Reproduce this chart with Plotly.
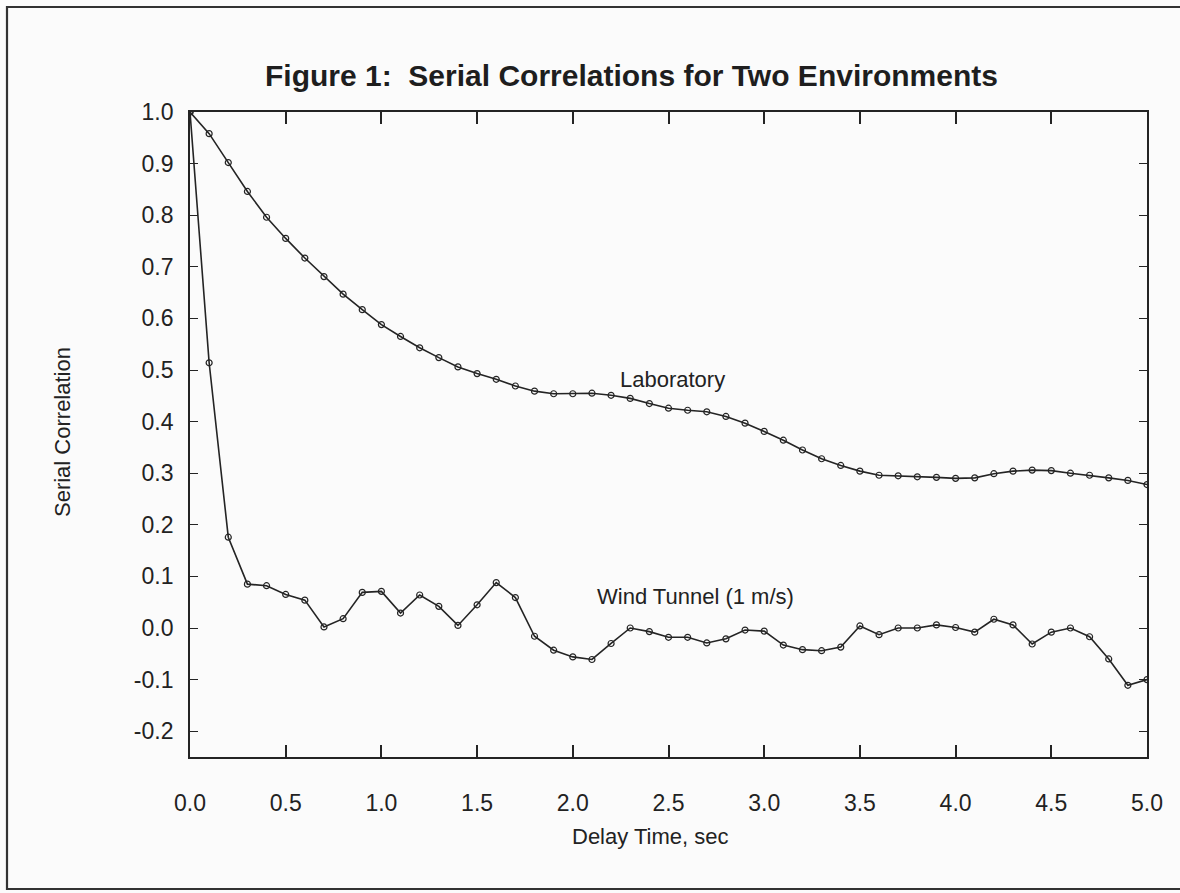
import plotly.graph_objects as go

# Delay times (s) and serial correlation estimates for the two environments
delay = [i / 10 for i in range(51)]

laboratory = [1.000, 0.958, 0.902, 0.846, 0.796, 0.755, 0.717, 0.681, 0.647, 0.617,
              0.588, 0.565, 0.543, 0.524, 0.506, 0.493, 0.482, 0.469, 0.459, 0.454,
              0.454, 0.455, 0.451, 0.445, 0.435, 0.426, 0.422, 0.419, 0.410, 0.397,
              0.381, 0.364, 0.345, 0.328, 0.315, 0.304, 0.296, 0.295, 0.293, 0.292,
              0.290, 0.291, 0.299, 0.304, 0.306, 0.305, 0.300, 0.296, 0.291, 0.286,
              0.278]

wind_tunnel = [1.000, 0.514, 0.176, 0.085, 0.082, 0.065, 0.054, 0.002, 0.018, 0.069,
               0.071, 0.029, 0.064, 0.042, 0.005, 0.045, 0.088, 0.059, -0.016, -0.043,
               -0.056, -0.061, -0.030, 0.000, -0.007, -0.018, -0.018, -0.029, -0.021, -0.004,
               -0.006, -0.033, -0.042, -0.044, -0.037, 0.004, -0.013, 0.000, 0.000, 0.006,
               0.001, -0.008, 0.017, 0.006, -0.031, -0.008, 0.000, -0.017, -0.060, -0.111,
               -0.100]

x_ticks = [0.0, 0.5, 1.0, 1.5, 2.0, 2.5, 3.0, 3.5, 4.0, 4.5, 5.0]
y_ticks = [-0.2, -0.1, 0.0, 0.1, 0.2, 0.3, 0.4, 0.5, 0.6, 0.7, 0.8, 0.9, 1.0]

W, H = 1180, 893
ML, MR, MT, MB = 190, 33, 112, 136
FONT = "Liberation Sans, Arial, sans-serif"
INK = "#242424"


def px_x(p):
    return (p - ML) / (W - ML - MR)


def px_y(p):
    return (H - MB - p) / (H - MT - MB)


fig = go.Figure()

for name, vals in (("Laboratory", laboratory), ("Wind Tunnel (1 m/s)", wind_tunnel)):
    fig.add_trace(go.Scatter(
        x=delay, y=vals, name=name, mode="lines+markers",
        line=dict(color=INK, width=1.6),
        marker=dict(symbol="circle-open", size=6, color=INK, line=dict(width=1.2)),
        showlegend=False,
    ))

fig.update_xaxes(
    range=[0, 5], tickvals=x_ticks, ticktext=[f"{v:.1f}" for v in x_ticks],
    showline=True, linecolor=INK, linewidth=1.8, mirror="ticks",
    ticks="inside", ticklen=12, tickwidth=1.5, tickcolor=INK,
    showgrid=False, zeroline=False, ticklabelstandoff=24,
    tickfont=dict(family=FONT, size=23, color="#222"),
)
fig.update_yaxes(
    range=[-0.25, 1.0], tickvals=y_ticks, ticktext=[f"{v:.1f}" for v in y_ticks],
    showline=True, linecolor=INK, linewidth=1.8, mirror="ticks",
    ticks="inside", ticklen=8, tickwidth=1.3, tickcolor=INK,
    showgrid=False, zeroline=False, ticklabelstandoff=10,
    tickfont=dict(family=FONT, size=23, color="#222"),
)

annotations = [
    dict(text="<b>Figure 1:&nbsp; Serial Correlations for Two Environments</b>",
         x=px_x(631), y=px_y(75), xref="paper", yref="paper",
         font=dict(family=FONT, size=30, color="#1e1e1e")),
    dict(text="Delay Time, sec", x=px_x(650), y=px_y(836), xref="paper", yref="paper",
         font=dict(family=FONT, size=22, color="#222")),
    dict(text="Serial Correlation", x=px_x(62), y=px_y(432), xref="paper", yref="paper",
         textangle=-90, font=dict(family=FONT, size=22, color="#222")),
    dict(text="Laboratory", x=2.52, y=0.482, xref="x", yref="y",
         font=dict(family=FONT, size=22, color="#222")),
    dict(text="Wind Tunnel (1 m/s)", x=2.64, y=0.061, xref="x", yref="y",
         font=dict(family=FONT, size=22, color="#222")),
]
for a in annotations:
    a.update(showarrow=False, xanchor="center", yanchor="middle")

fig.update_layout(
    width=W, height=H,
    margin=dict(l=ML, r=MR, t=MT, b=MB),
    paper_bgcolor="#fbfbfb", plot_bgcolor="#fbfbfb",
    annotations=annotations,
    shapes=[dict(type="rect", xref="paper", yref="paper",
                 x0=px_x(7), x1=px_x(1195), y0=px_y(889), y1=px_y(7),
                 line=dict(color="#333", width=2.2), layer="below")],
)

fig.write_html("out.html")
